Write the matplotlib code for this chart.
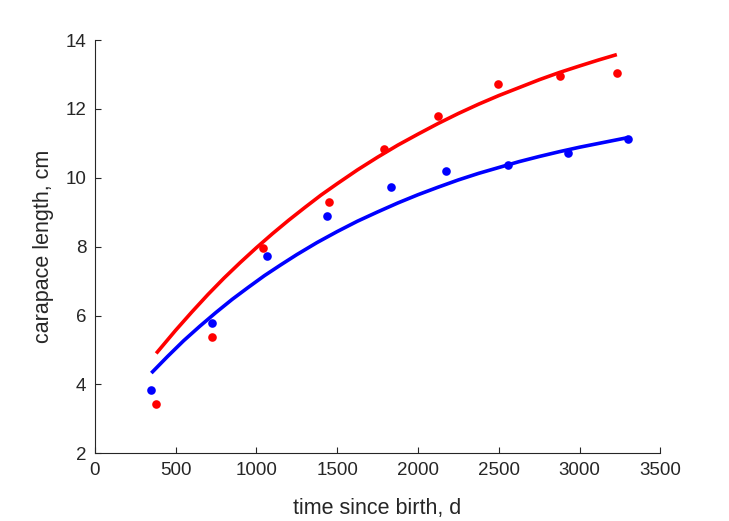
import matplotlib
matplotlib.use("Agg")
import matplotlib.pyplot as plt

# measured points (time since birth in days, carapace length in cm)
red_t = [381, 727, 1040, 1450, 1788, 2124, 2495, 2878, 3233]
red_len = [3.44, 5.37, 7.97, 9.29, 10.84, 11.80, 12.73, 12.96, 13.04]
blue_t = [348, 727, 1065, 1434, 1835, 2171, 2556, 2927, 3302]
blue_len = [3.84, 5.77, 7.73, 8.89, 9.73, 10.20, 10.37, 10.73, 11.12]

# fitted growth curves
red_fit_t = [380, 500, 600, 700, 800, 900, 1000, 1100, 1200, 1300, 1400, 1500,
             1625, 1750, 1875, 2000, 2125, 2250, 2375, 2500, 2625, 2750, 2875,
             3000, 3115, 3230]
red_fit = [4.90, 5.57, 6.10, 6.61, 7.09, 7.54, 7.97, 8.38, 8.77, 9.14, 9.50, 9.83,
           10.23, 10.60, 10.95, 11.27, 11.58, 11.87, 12.14, 12.39, 12.62, 12.85, 13.06,
           13.25, 13.42, 13.58]
blue_fit_t = [350, 450, 550, 650, 750, 850, 950, 1050, 1150, 1250, 1375, 1500,
              1625, 1750, 1875, 2000, 2125, 2250, 2375, 2500, 2625, 2750, 2875,
              3000, 3150, 3300]
blue_fit = [4.33, 4.81, 5.27, 5.69, 6.09, 6.47, 6.82, 7.16, 7.47, 7.77, 8.12, 8.44,
            8.74, 9.01, 9.27, 9.51, 9.73, 9.94, 10.13, 10.30, 10.47, 10.62, 10.76,
            10.89, 11.03, 11.17]

x_ticks = [0, 500, 1000, 1500, 2000, 2500, 3000, 3500]
y_ticks = [2, 4, 6, 8, 10, 12, 14]

plt.rcParams['font.family'] = ['Liberation Sans', 'DejaVu Sans']
ink = '#262626'

fig = plt.figure(figsize=(7.29, 5.21), dpi=100)
ax = fig.add_axes([0.130, 0.130, 0.776, 0.793])

ax.plot(red_fit_t, red_fit, color=(1, 0, 0), lw=2.6, solid_capstyle='butt')
ax.plot(blue_fit_t, blue_fit, color=(0, 0, 1), lw=2.6, solid_capstyle='butt')
ax.plot(red_t, red_len, 'o', color=(1, 0, 0), ms=6.2, mec='none')
ax.plot(blue_t, blue_len, 'o', color=(0, 0, 1), ms=6.2, mec='none')

ax.set_xlim(0, 3500)
ax.set_ylim(2, 14)
ax.set_xticks(x_ticks)
ax.set_yticks(y_ticks)
ax.tick_params(direction='in', length=4, width=0.8, colors=ink, labelsize=13.5, pad=6)
for side in ['top', 'right']:
    ax.spines[side].set_visible(False)
for side in ['left', 'bottom']:
    ax.spines[side].set_color(ink)
    ax.spines[side].set_linewidth(0.8)

ax.set_xlabel('time since birth, d', fontsize=15.5, color=ink, labelpad=14)
ax.set_ylabel('carapace length, cm', fontsize=15.5, color=ink, labelpad=8)

fig.savefig('out.png', dpi=100)
plt.close(fig)
